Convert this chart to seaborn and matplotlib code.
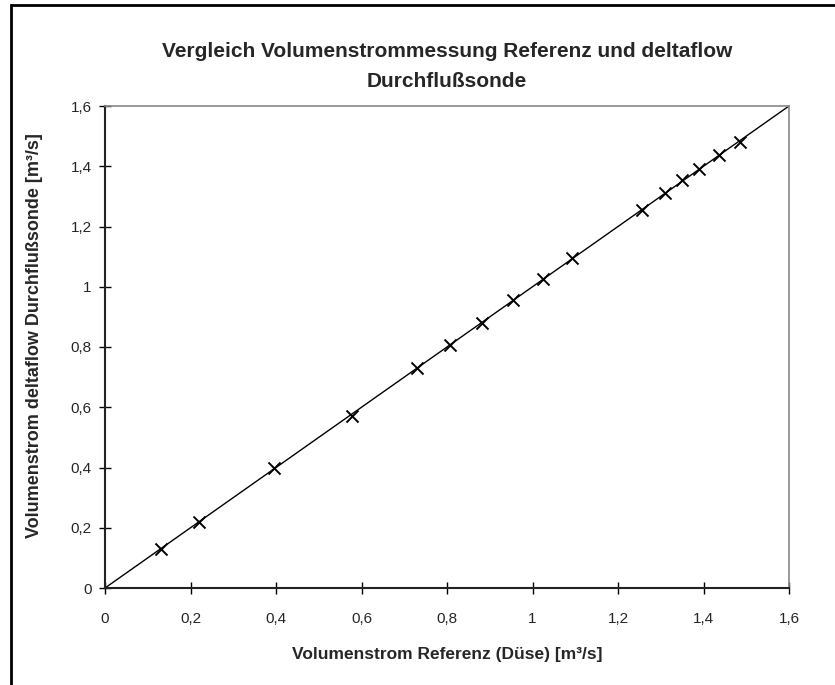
import matplotlib.pyplot as plt
import matplotlib.patches as mpatches
import seaborn as sns
import pandas as pd

referenz = [0.13, 0.22, 0.395, 0.577, 0.73, 0.808, 0.883, 0.955, 1.024,
            1.092, 1.255, 1.31, 1.35, 1.389, 1.436, 1.485]
deltaflow = [0.13, 0.22, 0.398, 0.572, 0.73, 0.808, 0.881, 0.957, 1.027,
             1.096, 1.256, 1.312, 1.353, 1.391, 1.438, 1.481]
diagonale = [0, 1.6]
ticks = [0, 0.2, 0.4, 0.6, 0.8, 1.0, 1.2, 1.4, 1.6]
tick_labels = ['0', '0,2', '0,4', '0,6', '0,8', '1', '1,2', '1,4', '1,6']

df = pd.DataFrame({'Referenz': referenz, 'deltaflow': deltaflow})
df_diag = pd.DataFrame({'x': diagonale, 'y': diagonale})

sns.set_style('white')
plt.rcParams['font.family'] = ['Liberation Sans', 'DejaVu Sans']

fig = plt.figure(figsize=(8.35, 6.85), dpi=100)
ax = fig.add_axes([105 / 835, 1 - 588 / 685, 684 / 835, 482 / 685])

# Diagonale y = x
sns.lineplot(x='x', y='y', data=df_diag, ax=ax, color='black', linewidth=1.0)
# Messpunkte
sns.scatterplot(x='Referenz', y='deltaflow', data=df, ax=ax, marker='x',
                color='black', s=75, linewidth=1.4, zorder=3)

ax.set_xlim(0, 1.6)
ax.set_ylim(0, 1.6)
ax.set_xticks(ticks)
ax.set_yticks(ticks)
ax.set_xticklabels(tick_labels, fontsize=11)
ax.set_yticklabels(tick_labels, fontsize=11)
ax.tick_params(axis='both', direction='inout', length=9, width=1,
               color='black', bottom=True, left=True)
ax.tick_params(axis='x', pad=13)
ax.tick_params(axis='y', pad=5)
ax.set_xlabel('')
ax.set_ylabel('')

for side in ['left', 'bottom']:
    ax.spines[side].set_color('#222222')
    ax.spines[side].set_linewidth(1.5)
for side in ['top', 'right']:
    ax.spines[side].set_color('#888888')
    ax.spines[side].set_linewidth(1.2)

# Titel (zwei Zeilen) und Achsenbeschriftungen
fig.text(447 / 835, 1 - 57 / 685,
         'Vergleich Volumenstrommessung Referenz und deltaflow',
         ha='center', va='baseline', fontsize=15, fontweight='bold')
fig.text(447 / 835, 1 - 87 / 685, 'Durchflußsonde',
         ha='center', va='baseline', fontsize=15, fontweight='bold')
fig.text(447 / 835, 1 - 659 / 685, 'Volumenstrom Referenz (Düse) [m³/s]',
         ha='center', va='baseline', fontsize=12.5, fontweight='bold')
fig.text(35 / 835, 1 - 336 / 685, 'Volumenstrom deltaflow Durchflußsonde [m³/s]',
         ha='center', va='center', rotation=90, fontsize=13, fontweight='bold')

# Rahmen (oben und links)
rahmen = mpatches.Rectangle((11 / 835, -0.1), 1.2, 1 - 5 / 685 + 0.1,
                            transform=fig.transFigure, fill=False,
                            edgecolor='black', linewidth=2)
fig.patches.append(rahmen)

plt.savefig('out.png', dpi=100)
